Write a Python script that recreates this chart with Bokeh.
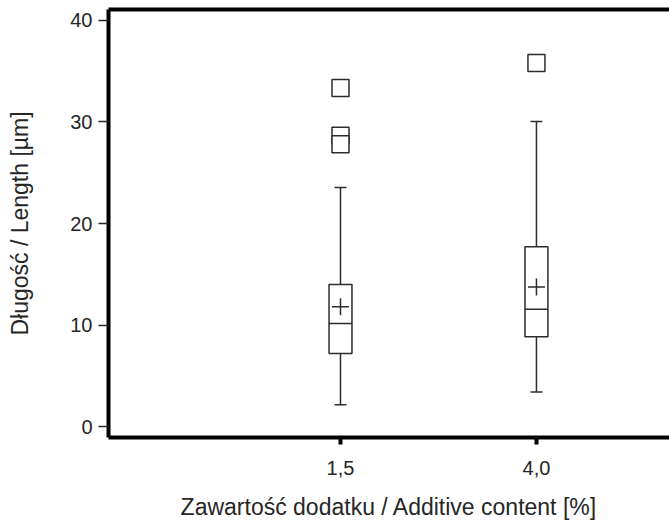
from bokeh.plotting import figure
from bokeh.models import Range1d, LinearAxis, FixedTicker
from bokeh.embed import file_html
from bokeh.resources import INLINE

# ---- data ----
categories = ["1,5", "4,0"]
q1 = [7.2, 8.85]
q3 = [14.0, 17.7]
medians = [10.15, 11.55]
means = [11.8, 13.75]
whisker_low = [2.15, 3.4]
whisker_high = [23.55, 30.05]
outliers = [[33.35, 28.65, 27.8], [35.8]]
y_ticks = [0, 10, 20, 30, 40]
x_title = "Zawartość dodatku / Additive content [%]"
y_title = "Długość / Length [µm]"

xs = [i + 1 for i in range(len(categories))]
box_w = 0.117
cap_w = 0.061
line_col = "#2b2b2b"

x0, x1 = -0.184, 2.679
y0, y1 = -1.08, 41.08
p = figure(width=669, height=522, output_backend="svg", toolbar_location=None,
           x_range=Range1d(x0, x1), y_range=Range1d(y0, y1),
           min_border_left=108, min_border_right=0, min_border_top=9, min_border_bottom=84)
p.outline_line_color = None
p.grid.visible = False
p.background_fill_color = "white"

# whiskers
p.segment(x0=xs, x1=xs, y0=q3, y1=whisker_high, line_color=line_col, line_width=1.5)
p.segment(x0=xs, x1=xs, y0=whisker_low, y1=q1, line_color=line_col, line_width=1.5)
p.segment(x0=[x - cap_w / 2 for x in xs], x1=[x + cap_w / 2 for x in xs],
          y0=whisker_high, y1=whisker_high, line_color=line_col, line_width=1.5)
p.segment(x0=[x - cap_w / 2 for x in xs], x1=[x + cap_w / 2 for x in xs],
          y0=whisker_low, y1=whisker_low, line_color=line_col, line_width=1.5)
# boxes
p.quad(left=[x - box_w / 2 for x in xs], right=[x + box_w / 2 for x in xs],
       bottom=q1, top=q3, fill_color="white", line_color=line_col, line_width=1.5)
# medians
p.segment(x0=[x - box_w / 2 for x in xs], x1=[x + box_w / 2 for x in xs],
          y0=medians, y1=medians, line_color=line_col, line_width=1.5)
# means
p.scatter(x=xs, y=means, marker="cross", size=17, line_color=line_col, line_width=1.5)
# outliers
ox, oy = [], []
for x, outs in zip(xs, outliers):
    for v in outs:
        ox.append(x)
        oy.append(v)
p.scatter(x=ox, y=oy, marker="square", size=17, fill_color="white",
          line_color=line_col, line_width=1.5)

font = "Liberation Sans"
txt_col = "#262626"
# x axis
xa = p.xaxis[0]
xa.ticker = FixedTicker(ticks=xs)
xa.major_label_overrides = {x: c for x, c in zip(xs, categories)}
xa.axis_label = x_title
xa.axis_line_width = 4
xa.axis_line_color = "black"
xa.major_tick_line_width = 4
xa.major_tick_line_color = "black"
xa.major_tick_out = 7
xa.major_tick_in = 0
xa.minor_tick_line_color = None
xa.major_label_standoff = 16
xa.axis_label_standoff = 16
xa.major_label_text_font = font
xa.major_label_text_font_size = "20px"
xa.major_label_text_color = txt_col
xa.axis_label_text_font = font
xa.axis_label_text_font_size = "23px"
xa.axis_label_text_font_style = "normal"
xa.axis_label_text_color = txt_col

# y axis
ya = p.yaxis[0]
ya.ticker = FixedTicker(ticks=y_ticks)
ya.axis_label = y_title
ya.axis_line_width = 4
ya.axis_line_color = "black"
ya.major_tick_line_width = 1.5
ya.major_tick_line_color = txt_col
ya.major_tick_out = 10
ya.major_tick_in = 0
ya.minor_tick_line_color = None
ya.major_label_standoff = 6
ya.axis_label_standoff = 34
ya.major_label_text_font = font
ya.major_label_text_font_size = "20px"
ya.major_label_text_color = txt_col
ya.axis_label_text_font = font
ya.axis_label_text_font_size = "23px"
ya.axis_label_text_font_style = "normal"
ya.axis_label_text_color = txt_col

# top border line
top = LinearAxis(axis_line_width=4, axis_line_color="black",
                 major_tick_line_color=None, minor_tick_line_color=None,
                 major_tick_out=0, major_tick_in=0, major_label_standoff=0,
                 major_label_text_font_size="0px", major_label_text_color=None,
                 ticker=FixedTicker(ticks=[0]))
p.add_layout(top, "above")

open("out.html", "w").write(file_html(p, INLINE))
